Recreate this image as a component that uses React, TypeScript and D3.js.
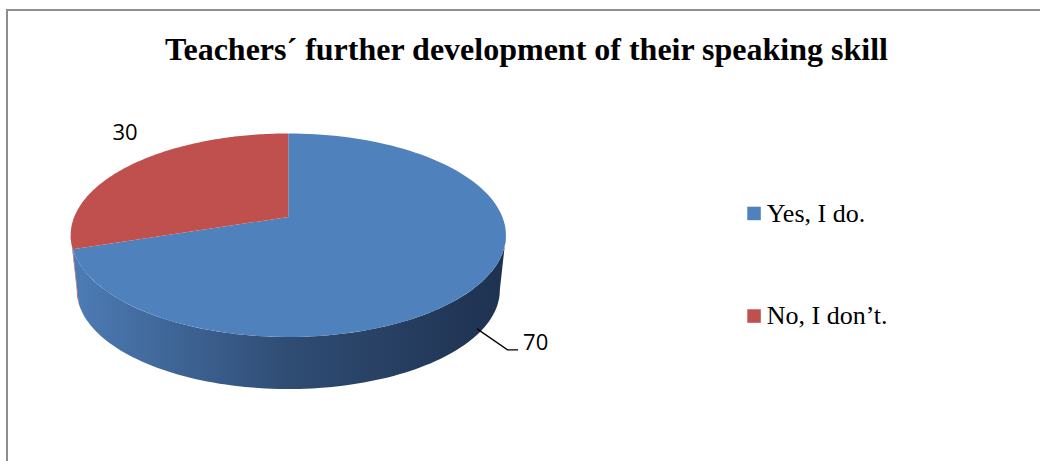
import React from "react";
import * as d3 from "d3";

const title = "Teachers´ further development of their speaking skill";
const categories = ["Yes, I do.", "No, I don’t."];
const values = [70, 30];
const topColors = ["#4f81bd", "#c0504d"];
const sideStops = [
  ["#4d7cb6", "#2f4c73", "#1e3150"],
  ["#b24b48", "#8a3936", "#5e2725"],
];

const W = 1040;
const H = 461;
// perspective pie geometry
const CX = 288.3;
const TOP = { cy: 217, k: 214.1, k2: 98.5, p: 0.179, s: 1 };
const BOT = { cy: 272.4, k: 214.1, k2: 98.5, p: 0.179, s: 0.972 };

type Lvl = typeof TOP;
function proj(a: number, L: Lvl, r = 1): [number, number] {
  const u = Math.sin(a) * r;
  const v = -Math.cos(a) * r;
  const d = 1 - L.p * v;
  return [CX + (L.s * L.k * u) / d, L.cy + (L.s * L.k2 * v) / d];
}
function projCenter(L: Lvl): [number, number] {
  return [CX, L.cy];
}

function topPath(a0: number, a1: number): string {
  const n = 120;
  const pts: [number, number][] = [projCenter(TOP)];
  for (let i = 0; i <= n; i++) pts.push(proj(a0 + ((a1 - a0) * i) / n, TOP));
  return d3.line()(pts)! + "Z";
}

function sidePath(a0: number, a1: number): string | null {
  const vis0 = Math.acos(-TOP.p); // angle where silhouette starts (front)
  const vis1 = 2 * Math.PI - vis0;
  const s = Math.max(a0, vis0);
  const e = Math.min(a1, vis1);
  if (e <= s) return null;
  const n = 100;
  const pts: [number, number][] = [];
  for (let i = 0; i <= n; i++) pts.push(proj(s + ((e - s) * i) / n, TOP));
  for (let i = n; i >= 0; i--) pts.push(proj(s + ((e - s) * i) / n, BOT));
  return d3.line()(pts)! + "Z";
}

export default function App() {
  const arcs = d3.pie<number>().sort(null).startAngle(0).endAngle(2 * Math.PI)(values);

  // label for "Yes" (70): leader from side face
  const yes = arcs[0];
  const midY = (yes.startAngle + yes.endAngle) / 2;
  const t0 = proj(midY, TOP);
  const b0 = proj(midY, BOT);
  const f = 0.88;
  const ls: [number, number] = [t0[0] + (b0[0] - t0[0]) * f, t0[1] + (b0[1] - t0[1]) * f];
  const lm: [number, number] = [ls[0] + 30.4, ls[1] + 21];
  const le: [number, number] = [lm[0] + 10.6, lm[1]];

  const no = arcs[1];
  const midN = (no.startAngle + no.endAngle) / 2;
  const nP = proj(midN, TOP);

  return (
    <svg
      width={W}
      height={H}
      style={{ position: "absolute", left: 0, top: 0, background: "#fff" }}
    >
      <defs>
        {sideStops.map((st, i) => (
          <linearGradient
            key={i}
            id={`side${i}`}
            gradientUnits="userSpaceOnUse"
            x1={71}
            x2={506}
            y1={0}
            y2={0}
          >
            <stop offset="0" stopColor={st[0]} />
            <stop offset="0.5" stopColor={st[1]} />
            <stop offset="1" stopColor={st[2]} />
          </linearGradient>
        ))}
      </defs>
      <rect x={7} y={10} width={1100} height={500} fill="none" stroke="#8e8e8e" strokeWidth={2} />
      <text
        x={526.5}
        y={60}
        textAnchor="middle"
        fontFamily="'Liberation Serif', 'Times New Roman', serif"
        fontWeight="bold"
        fontSize={32}
        fill="#000"
      >
        {title}
      </text>

      {arcs.map((a, i) => {
        const d = sidePath(a.startAngle, a.endAngle);
        return d ? <path key={"s" + i} d={d} fill={`url(#side${i})`} /> : null;
      })}
      {arcs.map((a, i) => (
        <path key={"t" + i} d={topPath(a.startAngle, a.endAngle)} fill={topColors[i]} />
      ))}

      <polyline
        points={[ls, lm, le].map((p) => p.join(",")).join(" ")}
        fill="none"
        stroke="#000"
        strokeWidth={1.3}
      />
      <text
        x={le[0] + 5}
        y={le[1]}
        fontFamily="'Open Sans', sans-serif"
        fontSize={22}
        fill="#000"
      >
        {values[0]}
      </text>
      <text
        x={nP[0] - 6.6}
        y={nP[1] - 24.6}
        textAnchor="middle"
        fontFamily="'Open Sans', sans-serif"
        fontSize={22}
        fill="#000"
      >
        {values[1]}
      </text>

      {categories.map((c, i) => (
        <g key={c} transform={`translate(747.3, ${206.7 + i * 102.6})`}>
          <rect x={0} y={0} width={13.5} height={13.5} fill={topColors[i]} />
          <text
            x={19.4}
            y={15}
            fontFamily="'Liberation Serif', 'Times New Roman', serif"
            fontSize={26}
            fill="#000"
          >
            {c}
          </text>
        </g>
      ))}
    </svg>
  );
}
